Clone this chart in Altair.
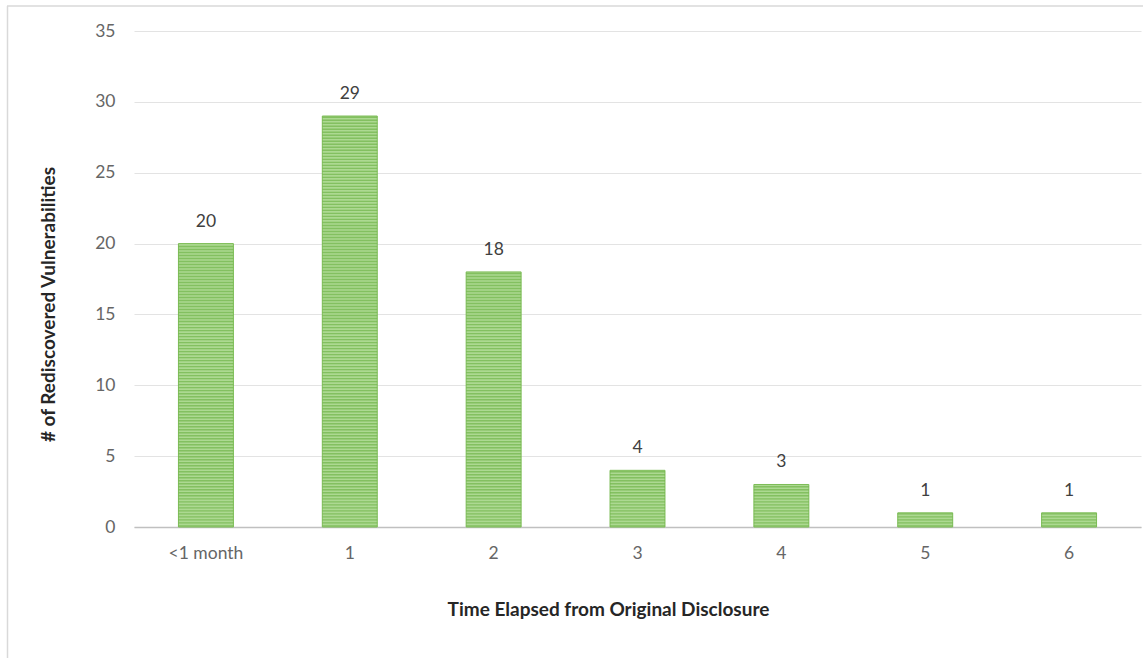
import altair as alt
import pandas as pd

# Rediscovered vulnerabilities by time elapsed since the original disclosure
categories = ["<1 month", "1", "2", "3", "4", "5", "6"]
counts = [20, 29, 18, 4, 3, 1, 1]

df = pd.DataFrame({"elapsed": categories, "count": counts})

FONT = "Lato"
PLOT_W, PLOT_H = 1007, 496

x_enc = alt.X(
    "elapsed:N",
    sort=categories,
    scale=alt.Scale(paddingInner=0.618, paddingOuter=0.309),
    axis=alt.Axis(
        title="Time Elapsed from Original Disclosure",
        titleFont=FONT, titleFontSize=19, titleFontWeight="bold", titleColor="#262626",
        titleX=474, titleY=82, titleBaseline="middle", titleAnchor=None, titleAlign="center",
        labelFont=FONT, labelFontSize=17.5, labelColor="#666666", labelAngle=0,
        labelPadding=17, ticks=False, domainColor="#c0c0c0", domainWidth=1.5,
        grid=False,
    ),
)
y_scale = alt.Scale(domain=[0, 35], nice=False)
y_axis = alt.Axis(
    title="# of Rediscovered Vulnerabilities",
    titleFont=FONT, titleFontSize=19, titleFontWeight="bold", titleColor="#262626",
    titleX=-86, titleY=273, titleAngle=-90, titleBaseline="middle", titleAlign="center",
    titleAnchor=None,
    values=[0, 5, 10, 15, 20, 25, 30, 35],
    labelFont=FONT, labelFontSize=17.5, labelColor="#666666", labelPadding=19,
    ticks=False, domain=False, gridColor="#e3e3e3", gridWidth=1,
)

base = alt.Chart(df)

bars = base.mark_bar(color="#acd991", stroke="#7dbd57", strokeWidth=1).encode(
    x=x_enc,
    y=alt.Y("count:Q", scale=y_scale, axis=y_axis),
)

# horizontal hatching inside each bar
stripes = (
    base.transform_calculate(s="sequence(0.08, datum.count, 0.212)")
    .transform_flatten(["s"])
    .mark_tick(orient="horizontal", color="#72b54b", thickness=1.4, size=55)
    .encode(
        x=alt.X("elapsed:N", sort=categories),
        y=alt.Y("s:Q", scale=y_scale),
    )
)

labels = base.mark_text(
    dy=-22, font=FONT, fontSize=17.5, color="#404040", baseline="middle"
).encode(
    x=alt.X("elapsed:N", sort=categories),
    y=alt.Y("count:Q", scale=y_scale),
    text="count:Q",
)

frame_data = alt.Data(values=[{"k": 1}])
top_edge = alt.Chart(frame_data).mark_rule(color="#d9d9d9", strokeWidth=1.5).encode(
    x=alt.value(-127), x2=alt.value(PLOT_W + 2), y=alt.value(-25)
)
left_edge = alt.Chart(frame_data).mark_rule(color="#d9d9d9", strokeWidth=1.5).encode(
    x=alt.value(-126.5), y=alt.value(-25), y2=alt.value(PLOT_H + 131)
)

chart = (
    alt.layer(bars, stripes, labels, top_edge, left_edge)
    .properties(
        width=PLOT_W,
        height=PLOT_H,
        autosize=alt.AutoSizeParams(type="none"),
        padding={"left": 134, "top": 31, "right": 2, "bottom": 131},
        background="white",
    )
    .configure_view(stroke=None)
)

chart.save("out.html", embed_options={"renderer": "svg", "actions": False})
